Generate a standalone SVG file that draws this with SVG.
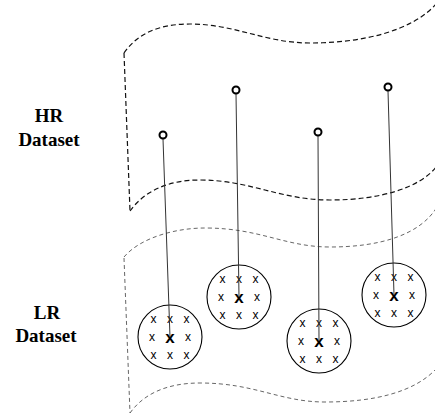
<svg xmlns="http://www.w3.org/2000/svg" xmlns:xlink="http://www.w3.org/1999/xlink" width="435" height="418" viewBox="0 0 435 418">
<style>
.hr{fill:none;stroke:#111;stroke-width:1.2;stroke-dasharray:5 3}
.lr{fill:none;stroke:#555;stroke-width:0.9;stroke-dasharray:4 3}
.lbl{font-weight:bold;font-size:19px;fill:#000;text-anchor:middle}
.pt{fill:#fff;stroke:#000;stroke-width:2}
.cl{fill:#fff;stroke:#000;stroke-width:1.1}
.x{font-size:12px;fill:#000;text-anchor:middle}
.xc{font-size:17px;font-weight:bold;fill:#000;text-anchor:middle}
.ln{stroke:#333;stroke-width:1;fill:none}
</style>
<defs>
<g id="grid" font-family="Liberation Sans, Arial, sans-serif">
<text class="x" x="-16.5" y="-14">x</text><text class="x" x="0" y="-14">x</text><text class="x" x="16.5" y="-14">x</text>
<text class="x" x="-18" y="4">x</text><text class="xc" x="0" y="5.5">x</text><text class="x" x="18" y="4">x</text>
<text class="x" x="-16.5" y="22">x</text><text class="x" x="0" y="22">x</text><text class="x" x="16.5" y="22">x</text>
</g>
</defs>
<g id="hr-surface">
<path class="hr" d="M124,53 C140,30 165,24 190,24 C235,24 265,43 310,43 C360,43 412,32 437,3"/>
<path class="hr" d="M130,211 C145,190 170,180 200,180 C250,180 280,200 330,200 C380,200 420,188 437,166"/>
<path class="hr" d="M124,53 L130,211"/>
</g>
<g id="lr-surface">
<path class="lr" d="M124,257 C140,238 175,228 205,228 C260,228 285,247 330,247 C380,247 420,235 437,207"/>
<path class="lr" d="M130,413 C145,392 170,383 200,383 C255,383 280,402 325,402 C375,402 415,392 437,368"/>
<path class="lr" d="M124,258 L130,413"/>
</g>
<g id="label-hr" font-family="Liberation Serif, Times New Roman, serif"><text class="lbl" x="49" y="122">HR</text><text class="lbl" x="49" y="146">Dataset</text></g>
<g id="label-lr" font-family="Liberation Serif, Times New Roman, serif"><text class="lbl" x="47" y="319">LR</text><text class="lbl" x="46" y="342">Dataset</text></g>
<g id="cluster1"><circle class="cl" cx="170" cy="337" r="32"/><use xlink:href="#grid" x="170" y="337"/></g>
<g id="cluster2"><circle class="cl" cx="239" cy="297" r="32"/><use xlink:href="#grid" x="239" y="297"/></g>
<g id="cluster3"><circle class="cl" cx="319" cy="341" r="32"/><use xlink:href="#grid" x="319" y="341"/></g>
<g id="cluster4"><circle class="cl" cx="394" cy="295" r="32"/><use xlink:href="#grid" x="394" y="295"/></g>
<g id="connectors">
<line class="ln" x1="163" y1="139" x2="170" y2="337"/>
<line class="ln" x1="236" y1="94" x2="239" y2="297"/>
<line class="ln" x1="318" y1="136" x2="319" y2="341"/>
<line class="ln" x1="388" y1="91" x2="394" y2="295"/>
</g>
<g id="point1"><circle class="pt" cx="163" cy="135" r="3.5"/></g>
<g id="point2"><circle class="pt" cx="236" cy="90" r="3.5"/></g>
<g id="point3"><circle class="pt" cx="318" cy="132" r="3.5"/></g>
<g id="point4"><circle class="pt" cx="388" cy="87" r="3.5"/></g>
</svg>
